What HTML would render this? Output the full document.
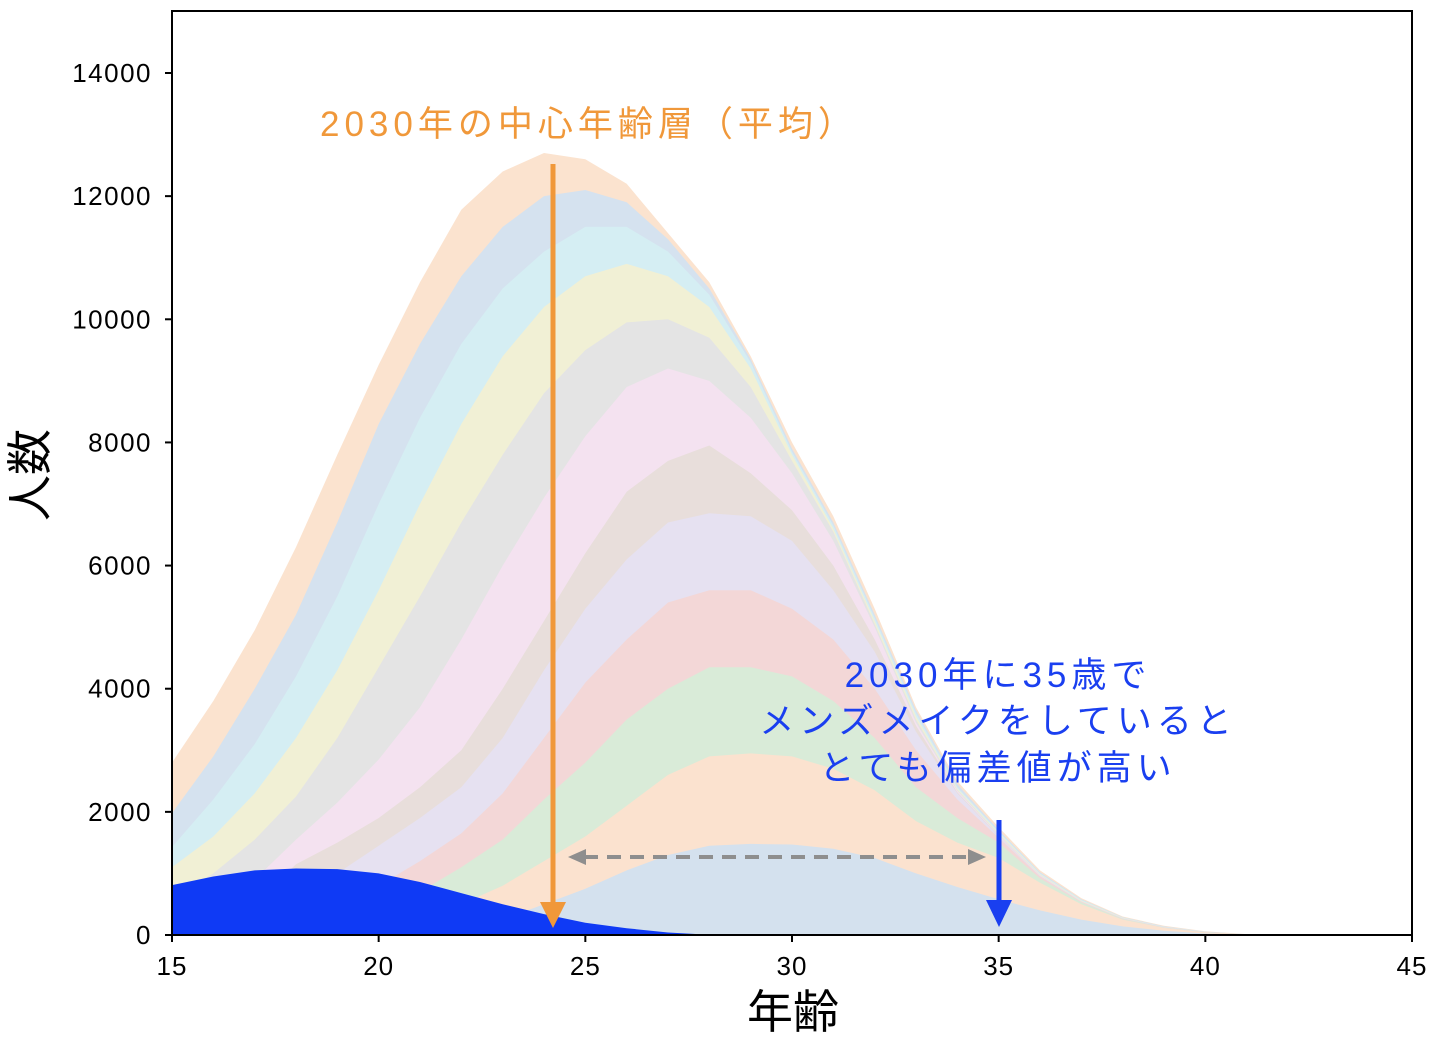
<!DOCTYPE html>
<html><head><meta charset="utf-8">
<style>
html,body{margin:0;padding:0;background:#fff;}
svg text{font-family:"Liberation Sans","Noto Sans CJK JP",sans-serif;}
</style></head>
<body>
<svg id="chart" width="1440" height="1040" xmlns="http://www.w3.org/2000/svg"></svg>
<script>
const ages = [15,16,17,18,19,20,21,22,23,24,25,26,27,28,29,30,31,32,33,34,35,36,37,38,39,40,41,42];
const seriesOrange = [2800,3800,4950,6300,7800,9260,10600,11780,12400,12700,12600,12200,11400,10600,9400,8000,6800,5300,3700,2500,1750,1050,600,300,150,60,15,0];
const seriesBlue   = [1980,2900,4000,5200,6700,8300,9600,10700,11500,12000,12100,11900,11300,10500,9350,7900,6700,5200,3650,2450,1700,1020,580,290,140,55,12,0];
const seriesCyan   = [1430,2200,3100,4200,5500,7000,8400,9600,10500,11100,11500,11500,11100,10400,9300,7850,6650,5150,3600,2400,1680,1000,570,285,135,50,10,0];
const seriesYellow = [1100,1600,2300,3200,4300,5600,7000,8300,9400,10200,10700,10900,10700,10200,9200,7800,6600,5100,3550,2380,1660,990,560,280,130,48,10,0];
const seriesGray   = [600,1000,1550,2250,3200,4350,5500,6700,7800,8800,9500,9950,10000,9700,8900,7700,6550,5050,3500,2360,1640,980,550,275,128,46,10,0];
const seriesPink   = [200,500,900,1550,2150,2850,3700,4800,6000,7100,8100,8900,9200,9000,8400,7500,6400,5000,3450,2340,1620,970,545,270,125,45,10,0];
const seriesBrown  = [50,200,500,1150,1500,1900,2400,3000,4000,5100,6200,7200,7700,7950,7500,6900,6000,4800,3400,2320,1610,960,542,268,124,45,10,0];
const seriesLav    = [0,80,250,600,1000,1450,1900,2400,3200,4300,5300,6100,6700,6850,6800,6400,5600,4600,3300,2300,1600,955,541,267,123,44,10,0];
const seriesRed    = [0,0,60,200,450,800,1200,1650,2300,3200,4100,4800,5400,5600,5600,5300,4800,4000,3000,2200,1580,950,540,265,122,44,10,0];
const seriesGreen  = [0,0,0,50,150,400,700,1100,1550,2200,2800,3500,4000,4350,4350,4200,3800,3200,2400,1900,1500,920,530,260,120,42,10,0];
const seriesPeach  = [0,0,0,0,30,100,250,500,800,1200,1600,2100,2600,2900,2950,2900,2700,2350,1850,1500,1250,850,500,250,115,40,9,0];
const seriesLBlue  = [0,0,0,0,0,0,30,100,250,500,750,1050,1300,1450,1480,1470,1400,1250,1000,780,580,400,250,140,70,25,6,0];
const seriesFront  = [810,950,1050,1080,1070,1000,860,680,500,340,200,110,40,5,0,0,0,0,0,0,0,0,0,0,0,0,0,0];
const yTicks = [0,2000,4000,6000,8000,10000,12000,14000];
const xTicks = [15,20,25,30,35,40,45];

const layers = [
 ['orange-layer',seriesOrange,'#fbe3cf'],
 ['blue-layer',seriesBlue,'#d5e2ef'],
 ['cyan-layer',seriesCyan,'#d5eef3'],
 ['yellow-layer',seriesYellow,'#f1f0d5'],
 ['gray-layer',seriesGray,'#e4e4e4'],
 ['pink-layer',seriesPink,'#f4e2f0'],
 ['brown-layer',seriesBrown,'#e8dedb'],
 ['lavender-layer',seriesLav,'#e6e1f1'],
 ['red-layer',seriesRed,'#f3d7d7'],
 ['green-layer',seriesGreen,'#d9ebd8'],
 ['peach-layer',seriesPeach,'#fbe2cf'],
 ['lightblue-layer',seriesLBlue,'#d4e1ee'],
 ['front-blue-layer',seriesFront,'#0f3af5']
];
const X0=172,X1=1412,Y0=935,YT=11;
const xs = v => X0 + (v-15)*(X1-X0)/30;
const ys = v => Y0 - v*(Y0-73)/14000;
const NS='http://www.w3.org/2000/svg';
const svg=document.getElementById('chart');
function mk(tag,attrs){const e=document.createElementNS(NS,tag);for(const k in attrs)e.setAttribute(k,attrs[k]);svg.appendChild(e);return e;}

layers.forEach(([name,vals,col])=>{
  let d='M'+xs(ages[0])+','+Y0;
  vals.forEach((v,i)=>{d+=' L'+xs(ages[i]).toFixed(1)+','+ys(v).toFixed(1);});
  d+=' L'+xs(ages[ages.length-1])+','+Y0+' Z';
  const p=mk('path',{d:d,fill:col});
  
  
});

const fr=mk('rect',{x:X0,y:YT,width:X1-X0,height:Y0-YT,fill:'none',stroke:'#000','stroke-width':2});



yTicks.forEach(t=>{
  const l=mk('line',{x1:X0-7,x2:X0,y1:ys(t),y2:ys(t),stroke:'#000','stroke-width':2});
  
  
  const tx=mk('text',{x:152,y:ys(t)+9,'text-anchor':'end','font-size':26,'letter-spacing':1.5,fill:'#000'});
  tx.textContent=t;
  
  
});
xTicks.forEach(t=>{
  const l=mk('line',{x1:xs(t),x2:xs(t),y1:Y0,y2:Y0+7,stroke:'#000','stroke-width':2});
  
  
  const tx=mk('text',{x:xs(t),y:975,'text-anchor':'middle','font-size':26,'letter-spacing':1,fill:'#000'});
  tx.textContent=t;
  
  
});
</script>
<svg style="position:absolute;left:0;top:0" width="1440" height="1040" xmlns="http://www.w3.org/2000/svg">
  <text x="793" y="1028" text-anchor="middle" font-size="46" fill="#000" font-family="Liberation Sans, Noto Sans CJK JP, sans-serif">年齢</text>
  <text transform="translate(46,475) rotate(-90)" text-anchor="middle" font-size="46" fill="#000" font-family="Liberation Sans, Noto Sans CJK JP, sans-serif">人数</text>
  <text x="320" y="136" font-size="35" letter-spacing="5" fill="#f0983a" font-family="Liberation Sans, Noto Sans CJK JP, sans-serif">2030年の中心年齢層（平均）</text>
  <line x1="553" y1="164" x2="553" y2="905" stroke="#f0983a" stroke-width="5"/>
  <polygon points="540,902 566,902 553,928" fill="#f0983a"/>
  <g font-size="35" letter-spacing="5" fill="#1a3ff0" text-anchor="middle" font-family="Liberation Sans, Noto Sans CJK JP, sans-serif">
    <text x="998" y="687">2030年に35歳で</text>
    <text x="998" y="733">メンズメイクをしていると</text>
    <text x="998" y="780">とても偏差値が高い</text>
  </g>
  <line x1="999" y1="820" x2="999" y2="903" stroke="#1a3ff0" stroke-width="5"/>
  <polygon points="986,900 1012,900 999,927" fill="#1a3ff0"/>
  <line x1="584" y1="857" x2="970" y2="857" stroke="#8e8e8e" stroke-width="4" stroke-dasharray="14,9"/>
  <polygon points="568,857 586,849 586,865" fill="#8e8e8e"/>
  <polygon points="986,857 968,849 968,865" fill="#8e8e8e"/>
</svg>
</body></html>
